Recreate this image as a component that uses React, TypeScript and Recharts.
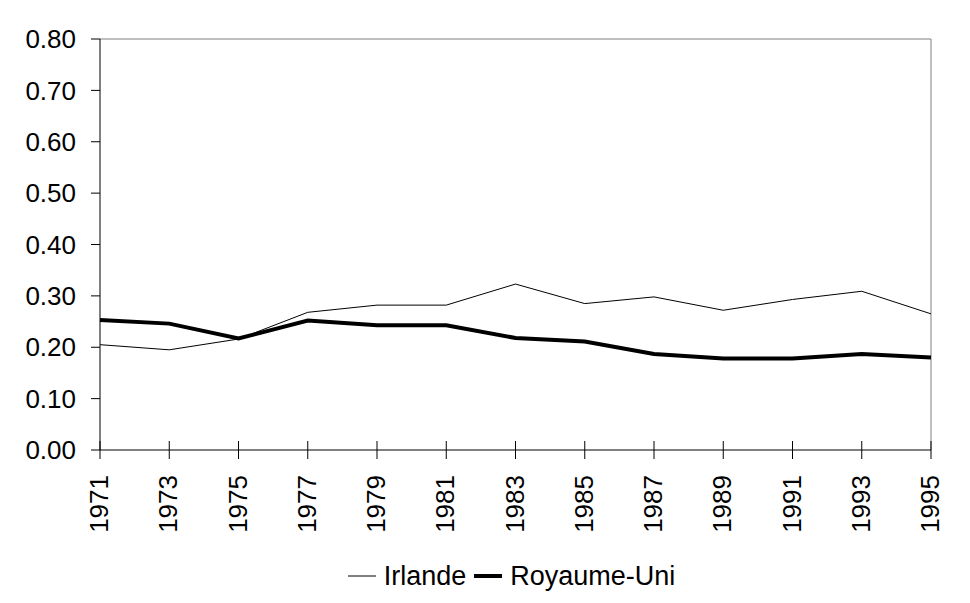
import { LineChart, Line, XAxis, YAxis, Legend, ReferenceLine } from 'recharts';

/* ───────── Data ───────── */

const YEARS = ['1971', '1973', '1975', '1977', '1979', '1981', '1983', '1985', '1987', '1989', '1991', '1993', '1995'];
const IRLANDE = [0.205, 0.195, 0.216, 0.268, 0.282, 0.282, 0.323, 0.285, 0.298, 0.272, 0.293, 0.309, 0.265];
const ROYAUME_UNI = [0.253, 0.246, 0.217, 0.252, 0.243, 0.243, 0.218, 0.211, 0.187, 0.178, 0.178, 0.187, 0.18];
const Y_TICKS = [0, 0.1, 0.2, 0.3, 0.4, 0.5, 0.6, 0.7, 0.8];

const FONT = '"Liberation Sans", Arial, sans-serif';
const BORDER = '#808080';

const data = YEARS.map((year, i) => ({
  year,
  irlande: IRLANDE[i],
  uk: ROYAUME_UNI[i],
}));

/* ───────── Rotated year tick with crossing tick mark ───────── */

function YearTick({ x, y, payload }: any) {
  return (
    <g transform={`translate(${x},${y})`}>
      <line x1={0} y1={-9} x2={0} y2={9} stroke="#000" strokeWidth={1} />
      <text
        x={0}
        y={0}
        transform="translate(-1,25) rotate(-90)"
        textAnchor="end"
        dominantBaseline="central"
        fontSize={26}
        fontFamily={FONT}
        fill="#000"
      >
        {payload.value}
      </text>
    </g>
  );
}

/* ───────── Legend ───────── */

const LEGEND_ITEMS = [
  { label: 'Irlande', width: 1 },
  { label: 'Royaume-Uni', width: 4 },
];

function ChartLegend() {
  return (
    <div style={{ display: 'flex', justifyContent: 'center', alignItems: 'center', height: 54, fontFamily: FONT, fontSize: 27, color: '#000' }}>
      {LEGEND_ITEMS.map((item) => (
        <div key={item.label} style={{ display: 'flex', alignItems: 'center', marginRight: 8 }}>
          <svg width={28} height={10} style={{ marginRight: 8 }}>
            <line x1={0} y1={5} x2={28} y2={5} stroke="#000" strokeWidth={item.width} />
          </svg>
          <span>{item.label}</span>
        </div>
      ))}
    </div>
  );
}

/* ───────── Chart ───────── */

export default function App() {
  return (
    <div style={{ position: 'absolute', left: 0, top: 0, width: 970, height: 603, background: '#fff' }}>
      <LineChart width={970} height={603} data={data} margin={{ top: 39, right: 39, left: 0, bottom: 0 }}>
        <ReferenceLine y={0.8} stroke={BORDER} strokeWidth={1} ifOverflow="visible" />
        <ReferenceLine x="1995" stroke={BORDER} strokeWidth={1} ifOverflow="visible" />
        <XAxis
          dataKey="year"
          height={99}
          axisLine={{ stroke: '#000' }}
          tickLine={false}
          tickSize={0}
          tickMargin={0}
          interval={0}
          tick={<YearTick />}
        />
        <YAxis
          width={100}
          domain={[0, 0.8]}
          ticks={Y_TICKS}
          interval={0}
          tickFormatter={(v: number) => v.toFixed(2)}
          axisLine={{ stroke: '#000' }}
          tickLine={{ stroke: '#000' }}
          tickSize={9}
          tickMargin={15}
          tick={{ fontSize: 26, fill: '#000', fontFamily: FONT }}
        />
        <Line
          type="linear"
          dataKey="irlande"
          name="Irlande"
          stroke="#000"
          strokeWidth={1}
          dot={false}
          isAnimationActive={false}
        />
        <Line
          type="linear"
          dataKey="uk"
          name="Royaume-Uni"
          stroke="#000"
          strokeWidth={4}
          dot={false}
          isAnimationActive={false}
        />
        <Legend
          verticalAlign="bottom"
          content={<ChartLegend />}
          wrapperStyle={{ left: 100, width: 831 }}
        />
      </LineChart>
    </div>
  );
}
